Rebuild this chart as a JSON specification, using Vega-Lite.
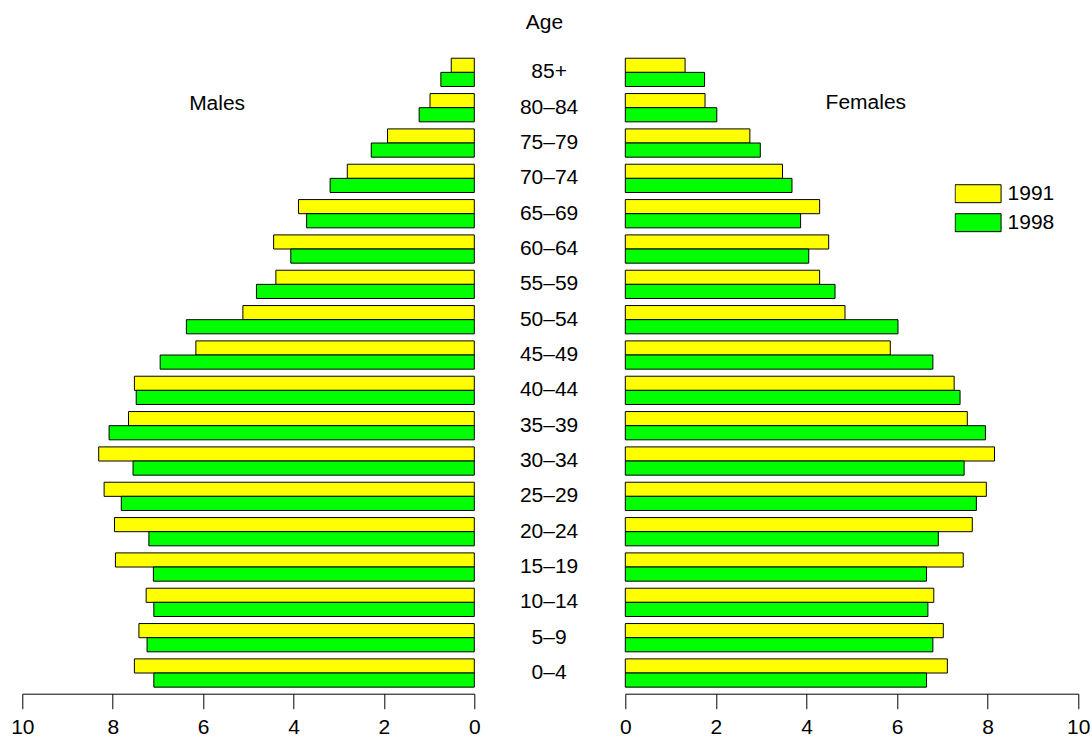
{
  "$schema": "https://vega.github.io/schema/vega-lite/v6.json",
  "padding": {"left": 10.3, "top": 11.7, "right": 0, "bottom": 0},
  "background": "white",
  "bounds": "flush",
  "spacing": 151,
  "config": {"view": {"stroke": null}, "font": "Liberation Sans"},
  "resolve": {"legend": {"fill": "independent"}},
  "data": {"values": [
    {"sex": "Males", "age": "85+", "year": "1991", "value": 0.51},
    {"sex": "Males", "age": "85+", "year": "1998", "value": 0.74},
    {"sex": "Males", "age": "80–84", "year": "1991", "value": 0.98},
    {"sex": "Males", "age": "80–84", "year": "1998", "value": 1.22},
    {"sex": "Males", "age": "75–79", "year": "1991", "value": 1.92},
    {"sex": "Males", "age": "75–79", "year": "1998", "value": 2.28},
    {"sex": "Males", "age": "70–74", "year": "1991", "value": 2.81},
    {"sex": "Males", "age": "70–74", "year": "1998", "value": 3.19},
    {"sex": "Males", "age": "65–69", "year": "1991", "value": 3.89},
    {"sex": "Males", "age": "65–69", "year": "1998", "value": 3.71},
    {"sex": "Males", "age": "60–64", "year": "1991", "value": 4.44},
    {"sex": "Males", "age": "60–64", "year": "1998", "value": 4.06},
    {"sex": "Males", "age": "55–59", "year": "1991", "value": 4.39},
    {"sex": "Males", "age": "55–59", "year": "1998", "value": 4.82},
    {"sex": "Males", "age": "50–54", "year": "1991", "value": 5.12},
    {"sex": "Males", "age": "50–54", "year": "1998", "value": 6.37},
    {"sex": "Males", "age": "45–49", "year": "1991", "value": 6.16},
    {"sex": "Males", "age": "45–49", "year": "1998", "value": 6.95},
    {"sex": "Males", "age": "40–44", "year": "1991", "value": 7.52},
    {"sex": "Males", "age": "40–44", "year": "1998", "value": 7.48},
    {"sex": "Males", "age": "35–39", "year": "1991", "value": 7.65},
    {"sex": "Males", "age": "35–39", "year": "1998", "value": 8.08},
    {"sex": "Males", "age": "30–34", "year": "1991", "value": 8.31},
    {"sex": "Males", "age": "30–34", "year": "1998", "value": 7.55},
    {"sex": "Males", "age": "25–29", "year": "1991", "value": 8.19},
    {"sex": "Males", "age": "25–29", "year": "1998", "value": 7.81},
    {"sex": "Males", "age": "20–24", "year": "1991", "value": 7.96},
    {"sex": "Males", "age": "20–24", "year": "1998", "value": 7.20},
    {"sex": "Males", "age": "15–19", "year": "1991", "value": 7.94},
    {"sex": "Males", "age": "15–19", "year": "1998", "value": 7.10},
    {"sex": "Males", "age": "10–14", "year": "1991", "value": 7.26},
    {"sex": "Males", "age": "10–14", "year": "1998", "value": 7.09},
    {"sex": "Males", "age": "5–9", "year": "1991", "value": 7.42},
    {"sex": "Males", "age": "5–9", "year": "1998", "value": 7.24},
    {"sex": "Males", "age": "0–4", "year": "1991", "value": 7.52},
    {"sex": "Males", "age": "0–4", "year": "1998", "value": 7.09},
    {"sex": "Females", "age": "85+", "year": "1991", "value": 1.32},
    {"sex": "Females", "age": "85+", "year": "1998", "value": 1.75},
    {"sex": "Females", "age": "80–84", "year": "1991", "value": 1.76},
    {"sex": "Females", "age": "80–84", "year": "1998", "value": 2.02},
    {"sex": "Females", "age": "75–79", "year": "1991", "value": 2.75},
    {"sex": "Females", "age": "75–79", "year": "1998", "value": 2.98},
    {"sex": "Females", "age": "70–74", "year": "1991", "value": 3.47},
    {"sex": "Females", "age": "70–74", "year": "1998", "value": 3.68},
    {"sex": "Females", "age": "65–69", "year": "1991", "value": 4.29},
    {"sex": "Females", "age": "65–69", "year": "1998", "value": 3.87},
    {"sex": "Females", "age": "60–64", "year": "1991", "value": 4.49},
    {"sex": "Females", "age": "60–64", "year": "1998", "value": 4.05},
    {"sex": "Females", "age": "55–59", "year": "1991", "value": 4.29},
    {"sex": "Females", "age": "55–59", "year": "1998", "value": 4.63},
    {"sex": "Females", "age": "50–54", "year": "1991", "value": 4.85},
    {"sex": "Females", "age": "50–54", "year": "1998", "value": 6.02},
    {"sex": "Females", "age": "45–49", "year": "1991", "value": 5.85},
    {"sex": "Females", "age": "45–49", "year": "1998", "value": 6.79},
    {"sex": "Females", "age": "40–44", "year": "1991", "value": 7.26},
    {"sex": "Females", "age": "40–44", "year": "1998", "value": 7.39},
    {"sex": "Females", "age": "35–39", "year": "1991", "value": 7.55},
    {"sex": "Females", "age": "35–39", "year": "1998", "value": 7.95},
    {"sex": "Females", "age": "30–34", "year": "1991", "value": 8.15},
    {"sex": "Females", "age": "30–34", "year": "1998", "value": 7.48},
    {"sex": "Females", "age": "25–29", "year": "1991", "value": 7.97},
    {"sex": "Females", "age": "25–29", "year": "1998", "value": 7.75},
    {"sex": "Females", "age": "20–24", "year": "1991", "value": 7.66},
    {"sex": "Females", "age": "20–24", "year": "1998", "value": 6.91},
    {"sex": "Females", "age": "15–19", "year": "1991", "value": 7.46},
    {"sex": "Females", "age": "15–19", "year": "1998", "value": 6.65},
    {"sex": "Females", "age": "10–14", "year": "1991", "value": 6.81},
    {"sex": "Females", "age": "10–14", "year": "1998", "value": 6.68},
    {"sex": "Females", "age": "5–9", "year": "1991", "value": 7.02},
    {"sex": "Females", "age": "5–9", "year": "1998", "value": 6.79},
    {"sex": "Females", "age": "0–4", "year": "1991", "value": 7.11},
    {"sex": "Females", "age": "0–4", "year": "1998", "value": 6.65}
  ]},
  "hconcat": [
    {
      "width": 452,
      "height": 636,
      "layer": [
        {
          "transform": [{"filter": "datum.sex === 'Males'"}],
          "mark": {"type": "bar", "stroke": "black", "strokeWidth": 1},
          "encoding": {
            "y": {
              "field": "age", "type": "nominal",
              "sort": ["85+", "80–84", "75–79", "70–74", "65–69", "60–64", "55–59", "50–54", "45–49", "40–44", "35–39", "30–34", "25–29", "20–24", "15–19", "10–14", "5–9", "0–4"],
              "scale": {"paddingInner": 0.2, "paddingOuter": 0.1},
              "axis": {
                "orient": "right", "title": "Age", "domain": false, "ticks": false, "tickSize": 0,
                "labelPadding": 74.3, "labelAlign": "center", "labelBaseline": "middle",
                "labelFontSize": 21, "labelFont": "Liberation Sans", "labelColor": "black",
                "titleAngle": 0, "titleX": 69.7, "titleY": -25.7, "titleAlign": "center",
                "titleBaseline": "alphabetic", "titleFontSize": 21, "titleFontWeight": "normal",
                "titleFont": "Liberation Sans", "titleColor": "black", "grid": false
              }
            },
            "yOffset": {"field": "year", "type": "nominal", "sort": ["1991", "1998"]},
            "x": {
              "field": "value", "type": "quantitative",
              "scale": {"domain": [0, 10], "reverse": true, "nice": false},
              "axis": {
                "values": [0, 2, 4, 6, 8, 10], "title": null, "grid": false, "offset": 3,
                "tickSize": 15, "tickColor": "black", "domainColor": "black",
                "labelFontSize": 21, "labelFont": "Liberation Sans", "labelColor": "black",
                "labelPadding": 25, "labelBaseline": "alphabetic", "labelFlush": false, "labelOverlap": false
              }
            },
            "fill": {
              "field": "year", "type": "nominal",
              "scale": {"domain": ["1991", "1998"], "range": ["#ffff00", "#00ff00"]},
              "legend": null
            }
          }
        },
        {
          "data": {"values": [{"label": "Males"}]},
          "mark": {"type": "text", "fontSize": 21, "font": "Liberation Sans", "color": "black", "align": "center", "baseline": "middle", "dy": -4},
          "encoding": {
            "x": {"datum": 5.69, "type": "quantitative"},
            "y": {"datum": "80–84", "type": "nominal"},
            "text": {"field": "label", "type": "nominal"}
          }
        }
      ]
    },
    {
      "width": 453,
      "height": 636,
      "layer": [
        {
          "transform": [{"filter": "datum.sex === 'Females'"}],
          "mark": {"type": "bar", "stroke": "black", "strokeWidth": 1},
          "encoding": {
            "y": {
              "field": "age", "type": "nominal",
              "sort": ["85+", "80–84", "75–79", "70–74", "65–69", "60–64", "55–59", "50–54", "45–49", "40–44", "35–39", "30–34", "25–29", "20–24", "15–19", "10–14", "5–9", "0–4"],
              "scale": {"paddingInner": 0.2, "paddingOuter": 0.1},
              "axis": null
            },
            "yOffset": {"field": "year", "type": "nominal", "sort": ["1991", "1998"]},
            "x": {
              "field": "value", "type": "quantitative",
              "scale": {"domain": [0, 10], "nice": false},
              "axis": {
                "values": [0, 2, 4, 6, 8, 10], "title": null, "grid": false, "offset": 3,
                "tickSize": 15, "tickColor": "black", "domainColor": "black",
                "labelFontSize": 21, "labelFont": "Liberation Sans", "labelColor": "black",
                "labelPadding": 25, "labelBaseline": "alphabetic", "labelFlush": false, "labelOverlap": false
              }
            },
            "fill": {
              "field": "year", "type": "nominal",
              "scale": {"domain": ["1991", "1998"], "range": ["#ffff00", "#00ff00"]},
              "legend": {
                "orient": "none", "legendX": 329.3, "legendY": 126.5, "title": null, "padding": 0,
                "symbolType": "M-1,-0.39H1V0.39H-1Z", "symbolSize": 2116,
                "symbolStrokeColor": "black", "symbolStrokeWidth": 1, "symbolOpacity": 1,
                "labelFontSize": 21, "labelFont": "Liberation Sans", "labelColor": "black",
                "labelOffset": 6, "clipHeight": 25, "rowPadding": 4
              }
            }
          }
        },
        {
          "data": {"values": [{"label": "Females"}]},
          "mark": {"type": "text", "fontSize": 21, "font": "Liberation Sans", "color": "black", "align": "center", "baseline": "middle", "dy": -5},
          "encoding": {
            "x": {"datum": 5.31, "type": "quantitative"},
            "y": {"datum": "80–84", "type": "nominal"},
            "text": {"field": "label", "type": "nominal"}
          }
        }
      ]
    }
  ]
}
